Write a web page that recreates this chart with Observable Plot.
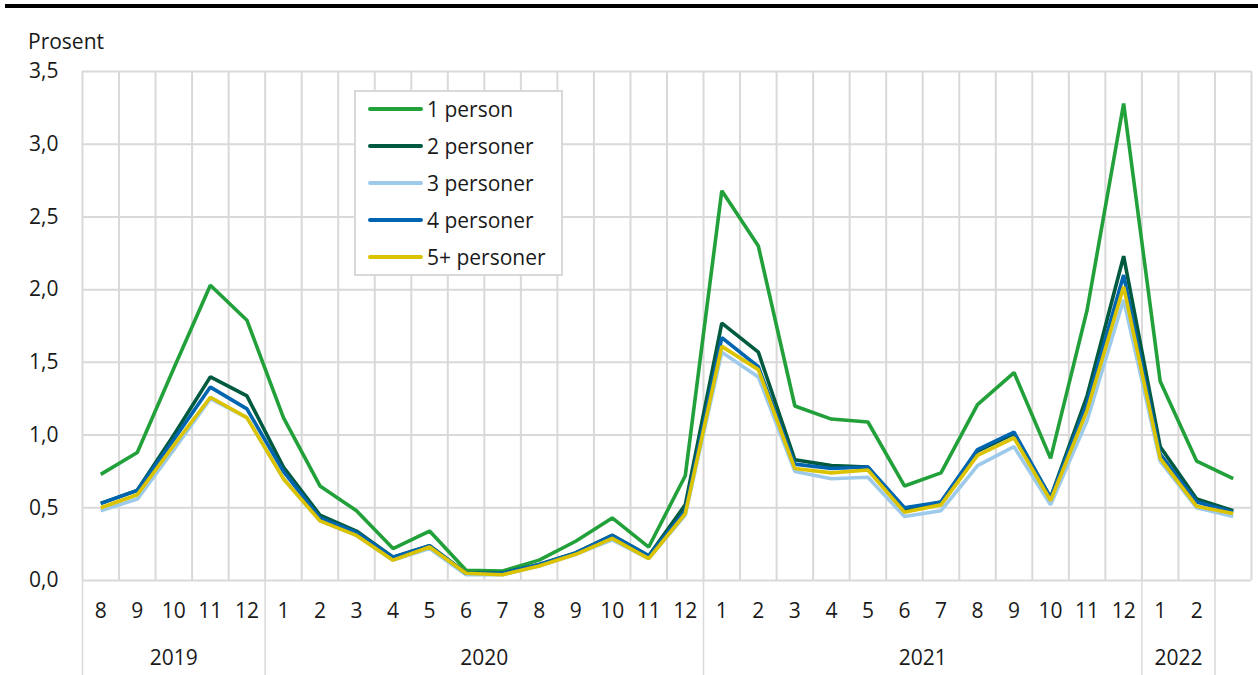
<!DOCTYPE html>
<html>
<head>
<meta charset="utf-8">
<script src="https://cdn.jsdelivr.net/npm/d3@7"></script>
<script src="https://cdn.jsdelivr.net/npm/@observablehq/plot@0.6"></script>
<style>
  html, body { margin: 0; padding: 0; background: #fff; }
  #wrap { position: relative; width: 1258px; height: 675px; overflow: hidden; font-family: "Open Sans", sans-serif; color: #1a1a1a; }
  #topbar { position: absolute; left: 5px; top: 4px; width: 1253px; height: 4px; background: #000; }
  #ylabel { position: absolute; left: 28px; top: 27px; font-size: 21px; line-height: 28px; }
  #legend { position: absolute; left: 354px; top: 90px; width: 205px; height: 182px; border: 2px solid #d9d9d9; background: #fff; box-sizing: content-box; }
  .li { position: absolute; left: 12px; height: 28px; display: flex; align-items: center; font-size: 21px; white-space: nowrap; }
  .sw { width: 55px; height: 4px; border-radius: 2px; margin-right: 4px; }
</style>
</head>
<body>
<div id="wrap">
  <div id="topbar"></div>
  <div id="ylabel">Prosent</div>
  <div id="chart"></div>
  <div id="legend"></div>
</div>
<script>
// Categories (month labels and their years)
const months = ["8","9","10","11","12","1","2","3","4","5","6","7","8","9","10","11","12","1","2","3","4","5","6","7","8","9","10","11","12","1","2",""];
const years  = ["2019","2019","2019","2019","2019","2020","2020","2020","2020","2020","2020","2020","2020","2020","2020","2020","2020","2021","2021","2021","2021","2021","2021","2021","2021","2021","2021","2021","2021","2022","2022",""];

const seriesNames = ["1 person","2 personer","3 personer","4 personer","5+ personer"];
const seriesColors = ["#22a03a","#005a3f","#9dcaeb","#0065b0","#dcc300"];

const person1 = [0.73,0.88,1.46,2.03,1.79,1.12,0.65,0.48,0.22,0.34,0.07,0.065,0.14,0.27,0.43,0.23,0.72,2.68,2.30,1.20,1.11,1.09,0.65,0.74,1.21,1.43,0.84,1.86,3.28,1.37,0.82,0.70];
const person2 = [0.53,0.62,1.00,1.40,1.27,0.78,0.45,0.34,0.16,0.24,0.05,0.05,0.11,0.19,0.31,0.17,0.52,1.77,1.57,0.83,0.79,0.78,0.48,0.54,0.89,1.01,0.57,1.27,2.23,0.92,0.56,0.48];
const person3 = [0.48,0.56,0.90,1.25,1.12,0.70,0.41,0.31,0.14,0.22,0.04,0.04,0.10,0.18,0.28,0.15,0.45,1.57,1.40,0.75,0.70,0.71,0.44,0.48,0.79,0.92,0.52,1.10,1.93,0.82,0.50,0.44];
const person4 = [0.53,0.62,0.97,1.33,1.18,0.75,0.43,0.33,0.16,0.24,0.05,0.05,0.11,0.19,0.31,0.17,0.48,1.67,1.47,0.80,0.77,0.78,0.50,0.54,0.90,1.02,0.57,1.22,2.10,0.87,0.54,0.47];
const person5 = [0.50,0.59,0.93,1.26,1.12,0.70,0.41,0.31,0.14,0.23,0.05,0.04,0.10,0.18,0.29,0.15,0.46,1.61,1.45,0.77,0.74,0.76,0.47,0.52,0.86,0.98,0.55,1.17,2.02,0.84,0.51,0.46];

const yTicks = [0,0.5,1,1.5,2,2.5,3,3.5];

const allSeries = [person1, person2, person3, person4, person5];
const rows = [];
allSeries.forEach((vals, s) => vals.forEach((v, i) => rows.push({i, v, s: seriesNames[s]})));

const n = months.length;
const boundaries = d3.range(n + 1).map(k => k - 0.5);
const monthRows = months.map((m, i) => ({i, m}));
// year groups
const yearGroups = [];
years.forEach((y, i) => {
  if (!y) return;
  let g = yearGroups.find(d => d.y === y);
  if (!g) { g = {y, first: i, last: i}; yearGroups.push(g); } else g.last = i;
});
const yearRows = yearGroups.map(g => ({x: (g.first + g.last) / 2, y: g.y}));
const yearSeps = [];
yearGroups.forEach(g => { yearSeps.push(g.first - 0.5); yearSeps.push(g.last + 0.5); });
const seps = Array.from(new Set(yearSeps));

const fmt = v => d3.format(".1f")(v).replace(".", ",");

const chart = Plot.plot({
  width: 1258,
  height: 675,
  marginLeft: 82,
  marginRight: 7,
  marginTop: 71,
  marginBottom: 95,
  style: { fontFamily: "Open Sans, sans-serif", fontSize: "21px", background: "transparent", color: "#1a1a1a", overflow: "visible" },
  x: { type: "linear", domain: [-0.5, n - 0.5], axis: null, label: null },
  y: { domain: [0, 3.5], axis: null, label: null },
  color: { domain: seriesNames, range: seriesColors },
  marks: [
    Plot.ruleY(yTicks, { stroke: "#d9d9d9", strokeWidth: 2 }),
    Plot.ruleX(boundaries, { stroke: "#d9d9d9", strokeWidth: 2 }),
    Plot.axisY(yTicks, { tickSize: 0, tickPadding: 24, tickFormat: fmt, fontSize: 21, fill: "#1a1a1a", label: null }),
    Plot.axisX(seps, { tickSize: 95, tickFormat: () => "", stroke: "#d9d9d9", strokeWidth: 1.5, label: null }),
    Plot.text(monthRows, { x: "i", text: "m", frameAnchor: "bottom", dy: 31, lineAnchor: "middle", fontSize: 21, fill: "#1a1a1a" }),
    Plot.text(yearRows, { x: "x", text: "y", frameAnchor: "bottom", dy: 78, lineAnchor: "middle", fontSize: 21, fill: "#1a1a1a" }),
    Plot.line(rows, { x: "i", y: "v", z: "s", stroke: "s", strokeWidth: 3.6, strokeLinejoin: "miter", strokeLinecap: "butt" })
  ]
});
document.getElementById("chart").appendChild(chart);

const legend = document.getElementById("legend");
seriesNames.forEach((name, k) => {
  const item = document.createElement("div");
  item.className = "li";
  item.style.top = (3 + k * 37) + "px";
  const sw = document.createElement("div");
  sw.className = "sw";
  sw.style.background = seriesColors[k];
  const tx = document.createElement("span");
  tx.textContent = name;
  item.appendChild(sw);
  item.appendChild(tx);
  legend.appendChild(item);
});
</script>
</body>
</html>
